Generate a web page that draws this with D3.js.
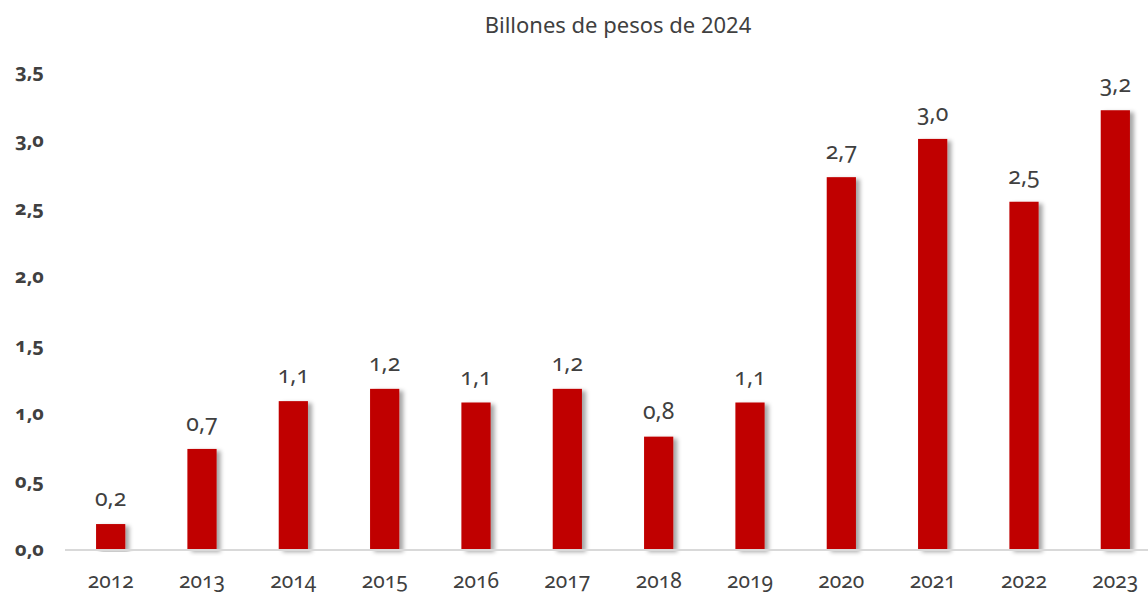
<!DOCTYPE html>
<html>
<head>
<meta charset="utf-8">
<script src="https://cdn.jsdelivr.net/npm/d3@7"></script>
<style>
	body { margin: 0; background: #fff; }
	svg text { font-family: "Noto Sans", "Open Sans", sans-serif; font-variant-numeric: oldstyle-nums; fill: #404040; }
</style>
</head>
<body>
<div id="chart"></div>
<script>
const years = ['2012','2013','2014','2015','2016','2017','2018','2019','2020','2021','2022','2023'];
const values = [0.19, 0.74, 1.09, 1.18, 1.08, 1.18, 0.83, 1.08, 2.73, 3.01, 2.55, 3.22];
const labels = ['0,2','0,7','1,1','1,2','1,1','1,2','0,8','1,1','2,7','3,0','2,5','3,2'];
const yTicks = [0, 0.5, 1, 1.5, 2, 2.5, 3, 3.5];

const w = 1148, h = 593;
const fmt = d3.format('.1f');

const plot = d3.select('#chart').append('svg')
	.attr('width', w)
	.attr('height', h);

//Shadow for the bars
const filter = plot.append('defs').append('filter')
	.attr('id', 'shadow')
	.attr('x', '-20%').attr('y', '-5%')
	.attr('width', '160%').attr('height', '110%');
filter.append('feDropShadow')
	.attr('dx', 4).attr('dy', 2)
	.attr('stdDeviation', 2)
	.attr('flood-color', '#000')
	.attr('flood-opacity', 0.35);

//Scales
const x = d3.scaleBand()
	.domain(years)
	.range([65, 1161])
	.paddingInner(0.68)
	.paddingOuter(0.34);

const y = d3.scaleLinear()
	.domain([0, 3.5])
	.range([550, 72]);

//Title
plot.append('text')
	.attr('x', 618)
	.attr('y', 33)
	.attr('text-anchor', 'middle')
	.style('font-size', '22px')
	.style('font-variant-numeric', 'normal')
	.text('Billones de pesos de 2024');

//Y axis labels
plot.selectAll('.y-label')
	.data(yTicks)
	.enter()
	.append('text')
	.attr('class', 'y-label')
	.attr('x', 44)
	.attr('y', d => y(d))
	.attr('dy', '0.32em')
	.attr('text-anchor', 'end')
	.style('font-size', '20px')
	.style('font-weight', 'bold')
	.text(d => fmt(d).replace('.', ','));

//Bars
plot.selectAll('.bar')
	.data(values)
	.enter()
	.append('rect')
	.attr('class', 'bar')
	.attr('x', (d, i) => x(years[i]))
	.attr('y', d => y(d))
	.attr('width', x.bandwidth())
	.attr('height', d => y(0) - y(d))
	.style('fill', '#c00000')
	.attr('filter', 'url(#shadow)');

//Baseline
plot.append('line')
	.attr('x1', 65).attr('x2', w)
	.attr('y1', y(0)).attr('y2', y(0))
	.style('stroke', '#d9d9d9')
	.style('stroke-width', '2px');

//Value labels
plot.selectAll('.value')
	.data(values)
	.enter()
	.append('text')
	.attr('class', 'value')
	.attr('x', (d, i) => x(years[i]) + x.bandwidth() / 2)
	.attr('y', d => y(d) - 18)
	.attr('text-anchor', 'middle')
	.style('font-size', '23px')
	.text((d, i) => labels[i]);

//X labels
plot.selectAll('.x-label')
	.data(years)
	.enter()
	.append('text')
	.attr('class', 'x-label')
	.attr('x', d => x(d) + x.bandwidth() / 2)
	.attr('y', 588)
	.attr('text-anchor', 'middle')
	.style('font-size', '21px')
	.text(d => d);
</script>
</body>
</html>
